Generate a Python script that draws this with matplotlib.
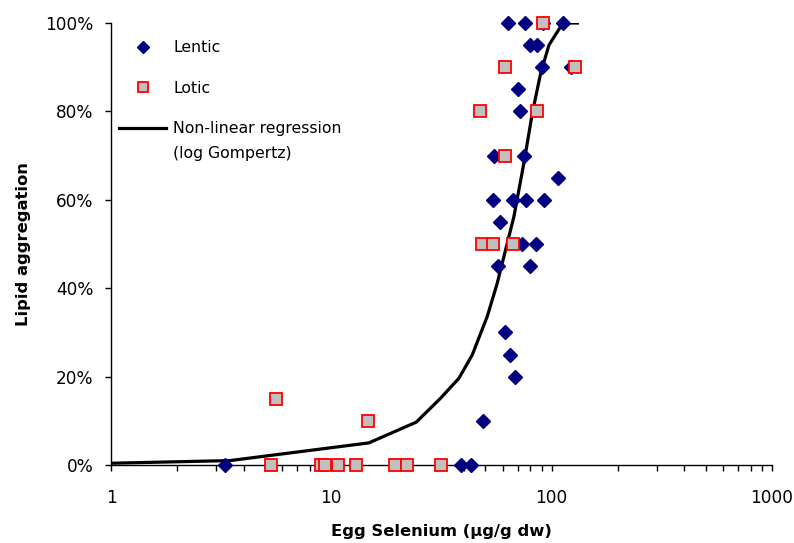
import matplotlib
matplotlib.use("Agg")
import matplotlib.pyplot as plt
from matplotlib.ticker import FixedLocator, FuncFormatter, NullFormatter, LogLocator

plt.rcParams['font.family'] = ['DejaVu Sans']

# Lentic sites (egg Se, lipid aggregation %)
lentic_x = [3.3, 38.8, 43.2, 48.9, 67.9, 64.5, 61.2, 57.1, 79.4, 73.7, 84.5, 58.1,
            54.2, 66.8, 76.7, 91.9, 106.9, 54.6, 74.6, 71.6, 70.4, 90.0, 122.0,
            79.4, 85.8, 63.4, 75.4, 91.7, 112.5]
lentic_y = [0, 0, 0, 10, 20, 25, 30, 45, 45, 50, 50, 55,
            60, 60, 60, 60, 65, 70, 70, 80, 85, 90, 90,
            95, 95, 100, 100, 100, 100]

# Lotic sites
lotic_x = [5.35, 5.63, 9.0, 9.33, 10.7, 12.9, 19.4, 22.0, 31.6, 14.7,
           48.4, 54.3, 66.9, 61.2, 47.1, 86.1, 61.2, 127.0, 91.7]
lotic_y = [0, 15, 0, 0, 0, 0, 0, 0, 0, 10,
           50, 50, 50, 70, 80, 80, 90, 90, 100]

# Log Gompertz regression curve
fit_x = [1.0, 3.47, 14.8, 24.3, 31.3, 37.9, 43.6, 51.0, 56.6, 67.4, 74.8,
         81.7, 89.1, 97.2, 109.9, 117.9, 130.9]
fit_y = [0.4, 1.0, 5.0, 9.7, 15.1, 19.6, 24.9, 33.6, 41.1, 56.2, 68.3,
         79.6, 88.6, 95.0, 99.2, 100, 100]

fig = plt.figure(figsize=(7.94, 5.43), dpi=100)
ax = fig.add_axes([111/794, 78/543, (772-111)/794, (465-23)/543])

ax.plot(fit_x, fit_y, color='black', lw=2.3, zorder=2,
        label='Non-linear regression', solid_joinstyle='miter')
ax.plot(lentic_x, lentic_y, ls='none', marker='D', ms=7.3, color='#000080',
        mec='#000080', zorder=3, clip_on=False, label='Lentic')
ax.plot(lotic_x, lotic_y, ls='none', marker='s', ms=8.6, mfc='#C0C0C0',
        mec='#FF0000', mew=1.3, zorder=4, clip_on=False, label='Lotic')

ax.set_xscale('log')
ax.set_xlim(1, 1000)
ax.set_ylim(0, 100)

ax.xaxis.set_major_locator(FixedLocator([1, 10, 100, 1000]))
ax.xaxis.set_major_formatter(FuncFormatter(lambda v, p: f"{v:g}"))
ax.xaxis.set_minor_locator(LogLocator(base=10, subs=range(2, 10)))
ax.xaxis.set_minor_formatter(NullFormatter())
ax.set_yticks([0, 20, 40, 60, 80, 100])
ax.set_yticklabels([f"{v}%" for v in [0, 20, 40, 60, 80, 100]])

for s in ['top', 'right']:
    ax.spines[s].set_visible(False)
for s in ['left', 'bottom']:
    ax.spines[s].set_linewidth(1.0)

ax.tick_params(axis='both', which='major', direction='out', length=4.5, width=1,
               labelsize=12.2)
ax.tick_params(axis='y', which='major', pad=8)
ax.tick_params(axis='x', which='minor', direction='out', length=4, width=1)
ax.tick_params(axis='x', which='major', pad=13)

ax.set_xlabel('Egg Selenium (µg/g dw)', fontsize=11.8, fontweight='bold', labelpad=12)
ax.set_ylabel('Lipid aggregation', fontsize=11.8, fontweight='bold', labelpad=10)

h, l = ax.get_legend_handles_labels()
order = [1, 2, 0]
leg = ax.legend([h[i] for i in order], [l[i] for i in order],
                loc='upper left', bbox_to_anchor=(119/794, 1-40.5/543),
                bbox_transform=fig.transFigure, frameon=False, fontsize=11.3,
                handlelength=3.0, handletextpad=0.45, labelspacing=1.62,
                borderaxespad=0, borderpad=0, markerscale=0.85)

# second line of the regression label, placed under the legend entry
fig.canvas.draw()
bb = leg.get_texts()[2].get_window_extent()
fig.text(bb.x0 / fig.bbox.width, (bb.y0 - 25) / fig.bbox.height,
         '(log Gompertz)', ha='left', va='bottom', fontsize=11.3)

fig.savefig('out.png', dpi=100)
